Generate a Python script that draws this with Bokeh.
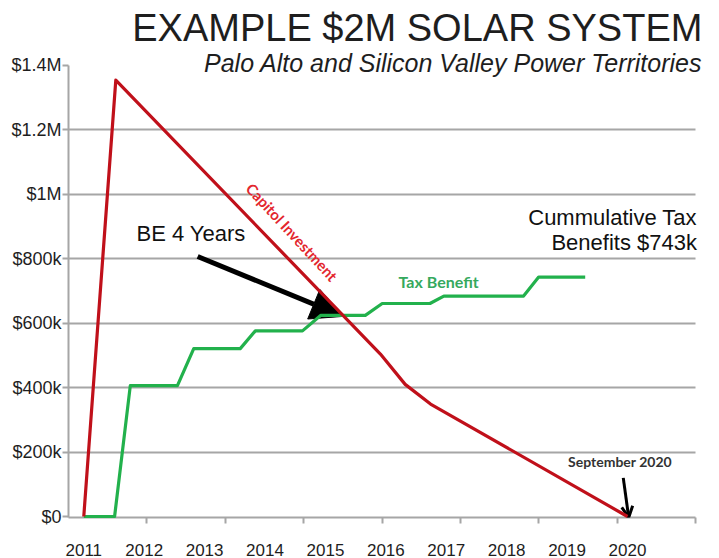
from bokeh.plotting import figure
from bokeh.models import Range1d, FixedTicker, Label, Arrow, NormalHead, OpenHead
from bokeh.embed import file_html
from bokeh.resources import INLINE

# ---- data ----
year_ticks = [2011, 2012, 2013, 2014, 2015, 2016, 2017, 2018, 2019, 2020]
year_labels = ["2011", "2012", "2013", "2014", "2015", "2016", "2017", "2018", "2019", "2020"]
value_ticks = [0, 200000, 400000, 600000, 800000, 1000000, 1200000, 1400000]
value_labels = ["$0", "$200k", "$400k", "$600k", "$800k", "$1M", "$1.2M", "$1.4M"]

capital_years = [2011.0, 2011.53, 2015.91, 2016.32, 2016.74, 2020.0]
capital_values = [0, 1354000, 504000, 410000, 349000, 0]

tax_years = [2011.0, 2011.51, 2011.77, 2012.55, 2012.82, 2013.59, 2013.84, 2014.62,
             2014.92, 2015.66, 2015.94, 2016.73, 2016.96, 2018.28, 2018.53, 2019.30]
tax_values = [0, 0, 406000, 406000, 521000, 521000, 576000, 576000,
              624000, 624000, 661000, 661000, 684000, 684000, 743000, 743000]

# axis extent (years) and the wider drawing area
AX0, AX1 = 2010.747, 2021.126
VIEW_X1 = 2021.523
VIEW_Y0, VIEW_Y1 = -3091, 1601236
GRID = "#a6a6a6"
TXT = "#1e1e1e"

p = figure(width=719, height=558, output_backend="svg", toolbar_location=None,
           x_range=Range1d(AX0, VIEW_X1), y_range=Range1d(VIEW_Y0, VIEW_Y1),
           min_border=0, min_border_left=68, min_border_right=0,
           min_border_top=0, min_border_bottom=39)
p.outline_line_color = None
p.background_fill_color = "white"

# axes
minor = [AX0 + k * (AX1 - AX0) / 8 for k in range(1, 9)]
p.xaxis.ticker = FixedTicker(ticks=year_ticks, minor_ticks=minor)
p.xaxis.major_label_overrides = dict(zip(year_ticks, year_labels))
p.xaxis.bounds = (AX0, AX1)
p.xaxis.major_tick_out = 0
p.xaxis.major_tick_in = 0
p.xaxis.minor_tick_out = 6
p.xaxis.minor_tick_in = 0
p.xaxis.minor_tick_line_color = GRID
p.xaxis.minor_tick_line_width = 2
p.xaxis.major_label_standoff = 20
p.xaxis.major_label_text_font_size = "17px"

p.yaxis.ticker = FixedTicker(ticks=value_ticks)
p.yaxis.major_label_overrides = dict(zip(value_ticks, value_labels))
p.yaxis.bounds = (VIEW_Y0, 1400000)
p.yaxis.major_tick_out = 6
p.yaxis.major_tick_in = 0
p.yaxis.minor_tick_out = 0
p.yaxis.minor_tick_in = 0
p.yaxis.major_label_standoff = 1
p.yaxis.major_label_text_font_size = "18px"

for ax in (p.xaxis, p.yaxis):
    ax.axis_line_color = GRID
    ax.axis_line_width = 2
    ax.major_tick_line_color = GRID
    ax.major_tick_line_width = 2
    ax.major_label_text_font = "Liberation Sans"
    ax.major_label_text_color = TXT

p.xgrid.visible = False
p.ygrid.ticker = FixedTicker(ticks=value_ticks[1:-1])
p.ygrid.cross_bounds = (AX0, AX1)
p.ygrid.grid_line_color = GRID
p.ygrid.grid_line_width = 2

# series (drawn above the axis lines)
p.line(tax_years, tax_values, line_color="#22b14c", line_width=3.2, line_join="round",
       level="overlay")
p.line(capital_years, capital_values, line_color="#c0101a", line_width=3.2, line_join="round",
       level="overlay")

# titles
p.add_layout(Label(x=2021.24, y=1516000, text="EXAMPLE $2M SOLAR SYSTEM", text_align="right",
                   text_baseline="middle", text_font="Liberation Sans", text_font_size="38px",
                   text_color=TXT))
p.add_layout(Label(x=2021.24, y=1407000, text="Palo Alto and Silicon Valley Power Territories",
                   text_align="right", text_baseline="middle", text_font="Liberation Sans",
                   text_font_style="italic", text_font_size="25px", text_color=TXT))

# annotations
p.add_layout(Label(x=2011.872, y=878800, text="BE 4 Years", text_align="left",
                   text_baseline="middle", text_font="Liberation Sans", text_font_size="22px",
                   text_color="#111111"))
p.add_layout(Label(x=2021.15, y=927400, text="Cummulative Tax", text_align="right",
                   text_baseline="middle", text_font="Liberation Sans", text_font_size="22px",
                   text_color="#111111"))
p.add_layout(Label(x=2021.15, y=850100, text="Benefits $743k", text_align="right",
                   text_baseline="middle", text_font="Liberation Sans", text_font_size="22px",
                   text_color="#111111"))
p.add_layout(Label(x=2016.21, y=730000, text="Tax Benefit", text_align="left",
                   text_baseline="middle", text_font="Lato", text_font_style="bold",
                   text_font_size="16px", text_color="#35a95d"))
p.add_layout(Label(x=2014.446, y=883000, text="Capitol Investment", text_align="center",
                   text_baseline="middle", text_font="Lato", text_font_style="bold",
                   text_font_size="15px", text_color="#e3262e", angle=-0.827))
p.add_layout(Label(x=2019.876, y=171000, text="September 2020", text_align="center",
                   text_baseline="middle", text_font="Lato", text_font_style="bold",
                   text_font_size="14px", text_color="#333333"))

p.add_layout(Arrow(x_start=2012.885, y_start=807000, x_end=2015.297, y_end=621000,
                   line_width=5, line_color="black",
                   end=NormalHead(size=32, fill_color="black", line_color="black")))
p.add_layout(Arrow(x_start=2019.93, y_start=120000, x_end=2020.02, y_end=-3000,
                   line_width=3, line_color="black",
                   end=OpenHead(size=11, line_width=3, line_color="black")))

open("out.html", "w").write(file_html(p, INLINE))
